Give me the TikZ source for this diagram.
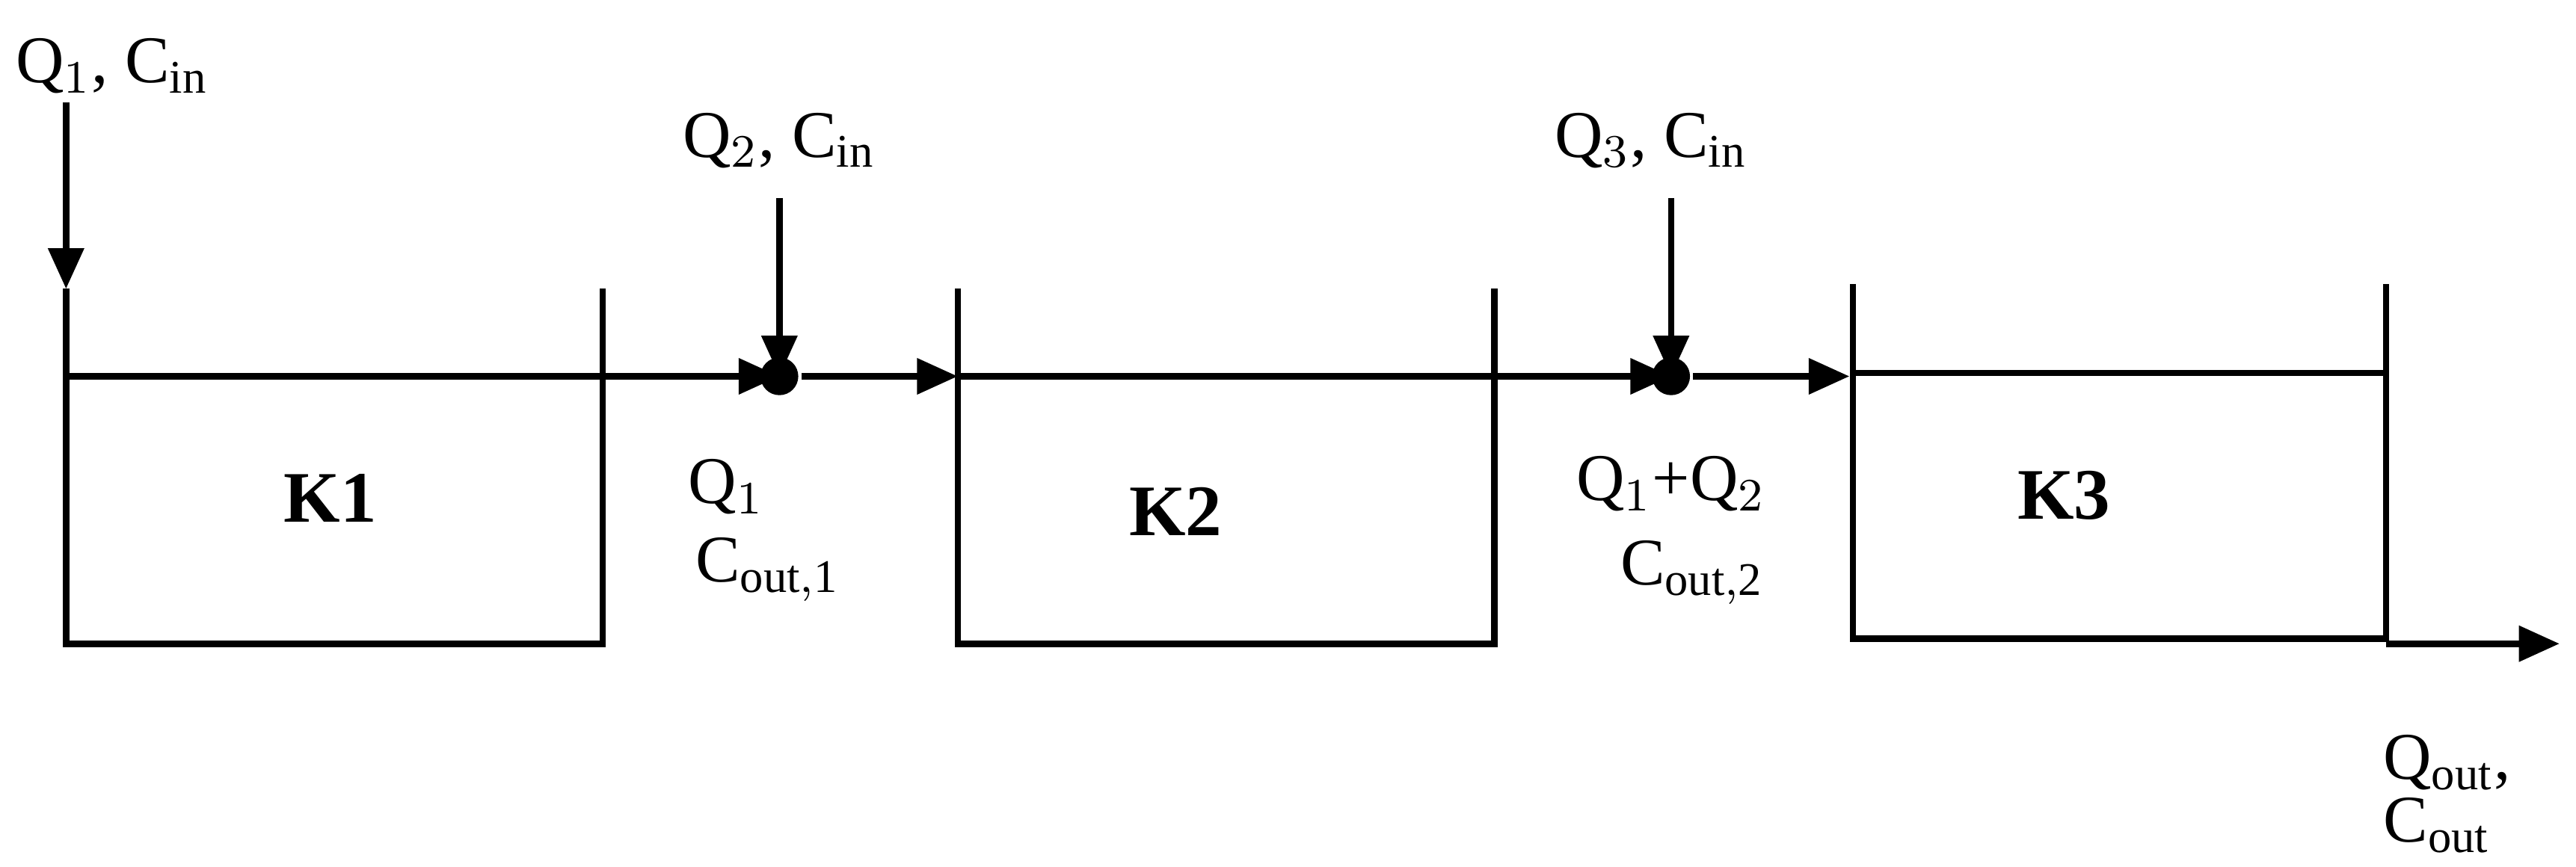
\documentclass[tikz,border=0pt]{standalone}
\usepackage{fontspec}
\setmainfont{Liberation Serif}
\usetikzlibrary{arrows.meta}
\begin{document}
\begin{tikzpicture}[x=0.01cm,y=-0.01cm,line width=1.1pt,
  lbl/.style={font=\fontsize{11.5}{13}\selectfont,inner sep=0pt},
  arr/.style={-{Triangle[length=7pt,width=6pt]}},
  dotn/.style={circle,fill,inner sep=0pt,minimum size=6.5pt}]
\useasboundingbox (0,0) rectangle (1560,525);
% tanks
\foreach \n/\a/\b/\t/\w/\bo in {1/40/365/175/228/390, 2/580/905/175/228/390, 3/1122/1445/172/226/387}{
  \draw (\a,\t) -- (\a,\bo) -- (\b,\bo) -- (\b,\t);
  \draw (\a,\w) -- (\b,\w);
}
\node[lbl,font=\fontsize{12.5}{15}\selectfont\bfseries] (k1) at (200,302) {K1};
\node[lbl,font=\fontsize{12.5}{15}\selectfont\bfseries] (k2) at (712,310) {K2};
\node[lbl,font=\fontsize{12.5}{15}\selectfont\bfseries] (k3) at (1250,300) {K3};
% inlet
\node[lbl] (in1) at (68,40) {Q$_1$, C$_{\mathrm{in}}$};
\coordinate (i1a) at (40,62);
\coordinate (i1b) at (40,175);
\draw[arr] (i1a) -- (i1b);
% junctions
\node[dotn] (j1) at (472,228) {};
\node[dotn] (j2) at (1012,228) {};
\coordinate (t1r) at (365,228);
\coordinate (t2l) at (580,228);
\coordinate (t2r) at (905,228);
\coordinate (t3l) at (1120,228);
\draw[arr] (t1r) -- (j1.center);
\draw[arr] (j1) -- (t2l);
\draw[arr] (t2r) -- (j2.center);
\draw[arr] (j2) -- (t3l);
\node[lbl] (in2) at (472,85) {Q$_2$, C$_{\mathrm{in}}$};
\node[lbl] (in3) at (1000,85) {Q$_3$, C$_{\mathrm{in}}$};
\coordinate (a2) at (472,120);
\coordinate (a3) at (1012,120);
\draw[arr] (a2) -- (j1.center);
\draw[arr] (a3) -- (j2.center);
\node[lbl] (q1) at (440,295) {Q$_1$};
\node[lbl] (c1) at (465,345) {C$_{\mathrm{out,1}}$};
\node[lbl] (q12) at (1012,293) {Q$_1$+Q$_2$};
\node[lbl] (c2) at (1025,347) {C$_{\mathrm{out,2}}$};
% outlet
\coordinate (o1) at (1445,390);
\coordinate (o2) at (1550,390);
\draw[arr] (o1) -- (o2);
\node[lbl] (qo) at (1482,462) {Q$_{\mathrm{out}}$,};
\node[lbl] (co) at (1476,500) {C$_{\mathrm{out}}$};
\end{tikzpicture}
\end{document}
